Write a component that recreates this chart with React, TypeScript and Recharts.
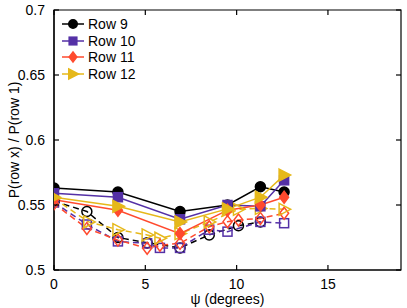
import React from "react"
import { LineChart, Line, XAxis, YAxis, ReferenceArea } from "recharts"

// angle positions (degrees)
const xSolid = [0, 3.5, 6.9, 9.5, 11.3, 12.6]

// solid lines, filled markers
const row9Solid = [0.563, 0.56, 0.545, 0.55, 0.564, 0.56]
const row10Solid = [0.559, 0.556, 0.539, 0.55, 0.549, 0.569]
const row11Solid = [0.554, 0.546, 0.528, 0.546, 0.55, 0.556]
const row12Solid = [0.556, 0.549, 0.537, 0.547, 0.556, 0.573]

// dashed lines, open markers
const row9DashX = [0, 1.8, 3.5, 5.1, 6.9, 8.5, 10.1, 11.3]
const row9Dash = [0.553, 0.545, 0.525, 0.521, 0.517, 0.527, 0.534, 0.537]
const row10DashX = [0, 1.8, 3.5, 5.1, 5.8, 6.9, 8.5, 9.5, 11.3, 12.6]
const row10Dash = [0.552, 0.535, 0.522, 0.5205, 0.517, 0.517, 0.531, 0.5295, 0.537, 0.536]
const row11DashX = [0, 1.8, 3.5, 5.1, 5.8, 6.9, 8.5, 9.5, 10.1, 11.3, 12.6]
const row11Dash = [0.551, 0.532, 0.523, 0.5167, 0.519, 0.5205, 0.5333, 0.5372, 0.5385, 0.5397, 0.5436]
const row12DashX = [0, 1.9, 3.5, 5.1, 5.8, 6.9, 8.5, 10.1, 11.3, 12.6]
const row12Dash = [0.555, 0.537, 0.531, 0.527, 0.5244, 0.528, 0.537, 0.5467, 0.5474, 0.5467]

const xTicks = [0, 5, 10, 15]
const yTicks = [0.5, 0.55, 0.6, 0.65, 0.7]

const toPoints = (xs: number[], ys: number[]) => xs.map((x, i) => ({ x, y: ys[i] }))

const rows = [
  { name: "Row 9", color: "#000000", shape: "circle", solid: toPoints(xSolid, row9Solid), dashed: toPoints(row9DashX, row9Dash) },
  { name: "Row 10", color: "#5430a6", shape: "square", solid: toPoints(xSolid, row10Solid), dashed: toPoints(row10DashX, row10Dash) },
  { name: "Row 11", color: "#ff4a2e", shape: "diamond", solid: toPoints(xSolid, row11Solid), dashed: toPoints(row11DashX, row11Dash) },
  { name: "Row 12", color: "#e6b81a", shape: "triangle", solid: toPoints(xSolid, row12Solid), dashed: toPoints(row12DashX, row12Dash) },
]

function Marker({ shape, cx, cy, color, filled, s = 1 }: any) {
  const fill = filled ? color : "none"
  const sw = 1.5
  if (shape === "circle") return <circle cx={cx} cy={cy} r={5 * s} fill={fill} stroke={color} strokeWidth={sw} />
  if (shape === "square") return <rect x={cx - 4.5 * s} y={cy - 4.5 * s} width={9 * s} height={9 * s} fill={fill} stroke={color} strokeWidth={sw} />
  if (shape === "diamond")
    return (
      <polygon
        points={`${cx},${cy - 6 * s} ${cx + 4.5 * s},${cy} ${cx},${cy + 6 * s} ${cx - 4.5 * s},${cy}`}
        fill={fill}
        stroke={color}
        strokeWidth={sw}
      />
    )
  return (
    <polygon
      points={`${cx - 5 * s},${cy - 6 * s} ${cx + 6.5 * s},${cy} ${cx - 5 * s},${cy + 6 * s}`}
      fill={fill}
      stroke={color}
      strokeWidth={sw}
    />
  )
}

const makeDot = (shape: string, color: string, filled: boolean) => (props: any) => (
  <Marker key={props.index} shape={shape} cx={props.cx} cy={props.cy} color={color} filled={filled} />
)

const font = "'Liberation Sans', Arial, sans-serif"

function LegendBox() {
  return (
    <div style={{ position: "absolute", left: 60, top: 16, fontFamily: font, fontSize: 14, lineHeight: "16.5px" }}>
      {rows.map((r) => (
        <div key={r.name} style={{ display: "flex", alignItems: "center", height: 16.5 }}>
          <svg width={26} height={14}>
            <line x1={2} y1={7} x2={24} y2={7} stroke={r.color} strokeWidth={1.5} />
            <Marker shape={r.shape} cx={13} cy={7} color={r.color} filled s={0.85} />
          </svg>
          <span style={{ marginLeft: 2 }}>{r.name}</span>
        </div>
      ))}
    </div>
  )
}

const tickStyle = { fontFamily: font, fontSize: 14, fill: "#000" }
const PLOT_H = 260
const PLOT_W = 347
const TICK = 5
const MARGIN = 9

// bottom ticks: label plus inward tick marks at bottom and top edges
function XTick(props: any) {
  const { x, y, payload } = props
  const base = y - MARGIN
  return (
    <g>
      <line x1={x} y1={base} x2={x} y2={base - TICK} stroke="#000" strokeWidth={1.2} />
      <line x1={x} y1={base - PLOT_H} x2={x} y2={base - PLOT_H + TICK} stroke="#000" strokeWidth={1.2} />
      <text x={x} y={y} dy="0.71em" textAnchor="middle" style={tickStyle}>
        {payload.value}
      </text>
    </g>
  )
}

function YTick(props: any) {
  const { x, y, payload } = props
  const base = x + MARGIN
  return (
    <g>
      <line x1={base} y1={y} x2={base + TICK} y2={y} stroke="#000" strokeWidth={1.2} />
      <line x1={base + PLOT_W} y1={y} x2={base + PLOT_W - TICK} y2={y} stroke="#000" strokeWidth={1.2} />
      <text x={x} y={y} dy="0.355em" textAnchor="end" style={tickStyle}>
        {String(payload.value)}
      </text>
    </g>
  )
}

export default function App() {
  return (
    <div style={{ position: "absolute", left: 0, top: 0, width: 407, height: 308, background: "#fff" }}>
      <LineChart width={407} height={308} margin={{ top: 10, right: 6, bottom: 0, left: 0 }}>
        <XAxis
          type="number"
          dataKey="x"
          domain={[0, 19]}
          ticks={xTicks}
          allowDataOverflow
          height={38}
          stroke="#000"
          strokeWidth={1.2}
          tickLine={false}
          tickSize={0}
          tickMargin={MARGIN}
          tick={<XTick />}
          label={{ value: "ψ (degrees)", position: "insideBottom", offset: 4, style: tickStyle }}
        />
        <YAxis
          type="number"
          domain={[0.5, 0.7]}
          ticks={yTicks}
          allowDataOverflow
          width={54}
          stroke="#000"
          strokeWidth={1.2}
          tickLine={false}
          tickSize={0}
          tickMargin={MARGIN}
          tick={<YTick />}
          label={{ value: "P(row x) / P(row 1)", angle: -90, position: "insideLeft", offset: 14, style: { ...tickStyle, textAnchor: "middle" } }}
        />
        <ReferenceArea x1={0} x2={19} y1={0.5} y2={0.7} fill="none" stroke="#000" strokeWidth={1.2} ifOverflow="visible" />
        {rows.map((r) => (
          <Line
            key={r.name + "d"}
            data={r.dashed}
            dataKey="y"
            stroke={r.color}
            strokeWidth={1.5}
            strokeDasharray="6 4"
            dot={makeDot(r.shape, r.color, false)}
            isAnimationActive={false}
          />
        ))}
        {rows.map((r) => (
          <Line
            key={r.name}
            data={r.solid}
            dataKey="y"
            name={r.name}
            stroke={r.color}
            strokeWidth={1.5}
            dot={makeDot(r.shape, r.color, true)}
            isAnimationActive={false}
          />
        ))}
      </LineChart>
      <LegendBox />
    </div>
  )
}
